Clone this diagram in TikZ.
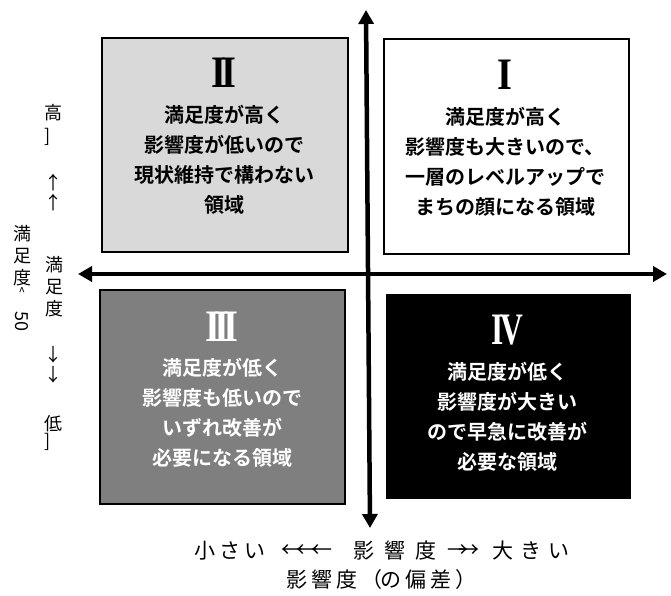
\documentclass[tikz,border=0pt]{standalone}
\usepackage{fontspec}
\usepackage{graphicx}
\setmainfont{Noto Sans CJK JP}[BoldFont={Noto Sans CJK JP Bold}]
\newfontfamily\romanfont{Liberation Serif}[BoldFont={Liberation Serif Bold}]
\usetikzlibrary{arrows.meta}
\definecolor{lightbox}{HTML}{D9D9D9}
\definecolor{midbox}{HTML}{7F7F7F}
\newcommand{\gapj}{\hspace{4pt}}
\begin{document}
\begin{tikzpicture}[x=1pt,y=-1pt,
  quad/.style={draw=black, line width=2pt, inner sep=0pt, anchor=north west},
  numeral/.style={font=\fontsize{45}{45}\selectfont\romanfont\bfseries, inner sep=0pt},
  body/.style={font=\fontsize{20}{30}\selectfont\bfseries, align=center, inner sep=0pt},
  axis/.style={line width=4.5pt, {Triangle[length=14pt,width=15pt]}-{Triangle[length=14pt,width=15pt]}},
  side/.style={font=\fontsize{18}{22}\selectfont, align=center, inner sep=0pt},
  bottom/.style={font=\fontsize{21}{21}\selectfont, inner sep=0pt}]
\useasboundingbox (0,0) rectangle (671,596);

% quadrant boxes
\node[quad, fill=lightbox, minimum width=246pt, minimum height=214pt] (q2) at (101,37) {};
\node[quad, fill=white, minimum width=245pt, minimum height=215pt] (q1) at (383,38) {};
\node[quad, fill=midbox, minimum width=245pt, minimum height=214pt] (q3) at (99,289) {};
\node[quad, fill=black, minimum width=243pt, minimum height=203pt] (q4) at (386,294) {};

% axes
\coordinate (vtop) at (366,10);
\coordinate (vbot) at (370,528);
\coordinate (hleft) at (78,274);
\coordinate (hright) at (667,274);
\draw[axis] (vbot) -- (vtop);
\draw[axis] (hleft) -- (hright);

% box contents
\node[numeral] (n2) at (224,73) {\scalebox{0.85}[1]{I\kern-6pt I}};
\node[body] (t2) at (224,160) {満足度が高く\\影響度が低いので\\現状維持で構わない\\領域};

\node[numeral] (n1) at (505,75) {\scalebox{0.85}[1]{I}};
\node[body] (t1) at (505,162) {満足度が高く\\影響度も大きいので、\\一層のレベルアップで\\まちの顔になる領域};

\node[numeral, text=white] (n3) at (222,327) {\scalebox{0.85}[1]{I\kern-7pt I\kern-7pt I}};
\node[body, text=white] (t3) at (222,413) {満足度が低く\\影響度も低いので\\いずれ改善が\\必要になる領域};

\node[numeral, text=white] (n4) at (507,330) {\scalebox{0.7}[1]{I\kern-5pt V}};
\node[body, text=white] (t4) at (507,417) {満足度が低く\\影響度が大きい\\ので早急に改善が\\必要な領域};

% left labels
\node[side] (hi) at (53,113) {高};
\node[side] (hib) at (48,137) {]};
\node[side] (up1) at (53,183) {↑};
\node[side] (up2) at (53,203) {↑};
\node[side] (sat) at (54,287) {満\\足\\度};
\node[side] (dn1) at (53,355) {↓};
\node[side] (dn2) at (53,375) {↓};
\node[side] (lo) at (53,424) {低};
\node[side] (lob) at (48,442) {]};
\node[side] (sat2) at (22,256) {満\\足\\度};
\node[side, font=\fontsize{12}{12}\selectfont] (hat) at (22,292) {\^{}};
\node[side, rotate=-90] (fifty) at (22,321) {50};

% bottom labels
\node[bottom, anchor=west] (small) at (194,551) {小\gapj さ\gapj い};
\node[bottom, anchor=west] (larr) at (281,551) {←\hspace{-6pt}←\hspace{-6pt}←};
\node[bottom, anchor=west] (eff) at (353,551) {影\hspace{10pt}響\hspace{10pt}度};
\node[bottom, anchor=west] (rarr) at (447,551) {→\hspace{-10pt}→};
\node[bottom, anchor=west] (big) at (492,551) {大\hspace{7pt}き\hspace{7pt}い};
\node[bottom, anchor=west] (dev) at (286,580) {影\gapj 響\gapj 度\gapj （\hspace{-2pt}の\gapj 偏\gapj 差\gapj ）};
\end{tikzpicture}
\end{document}
